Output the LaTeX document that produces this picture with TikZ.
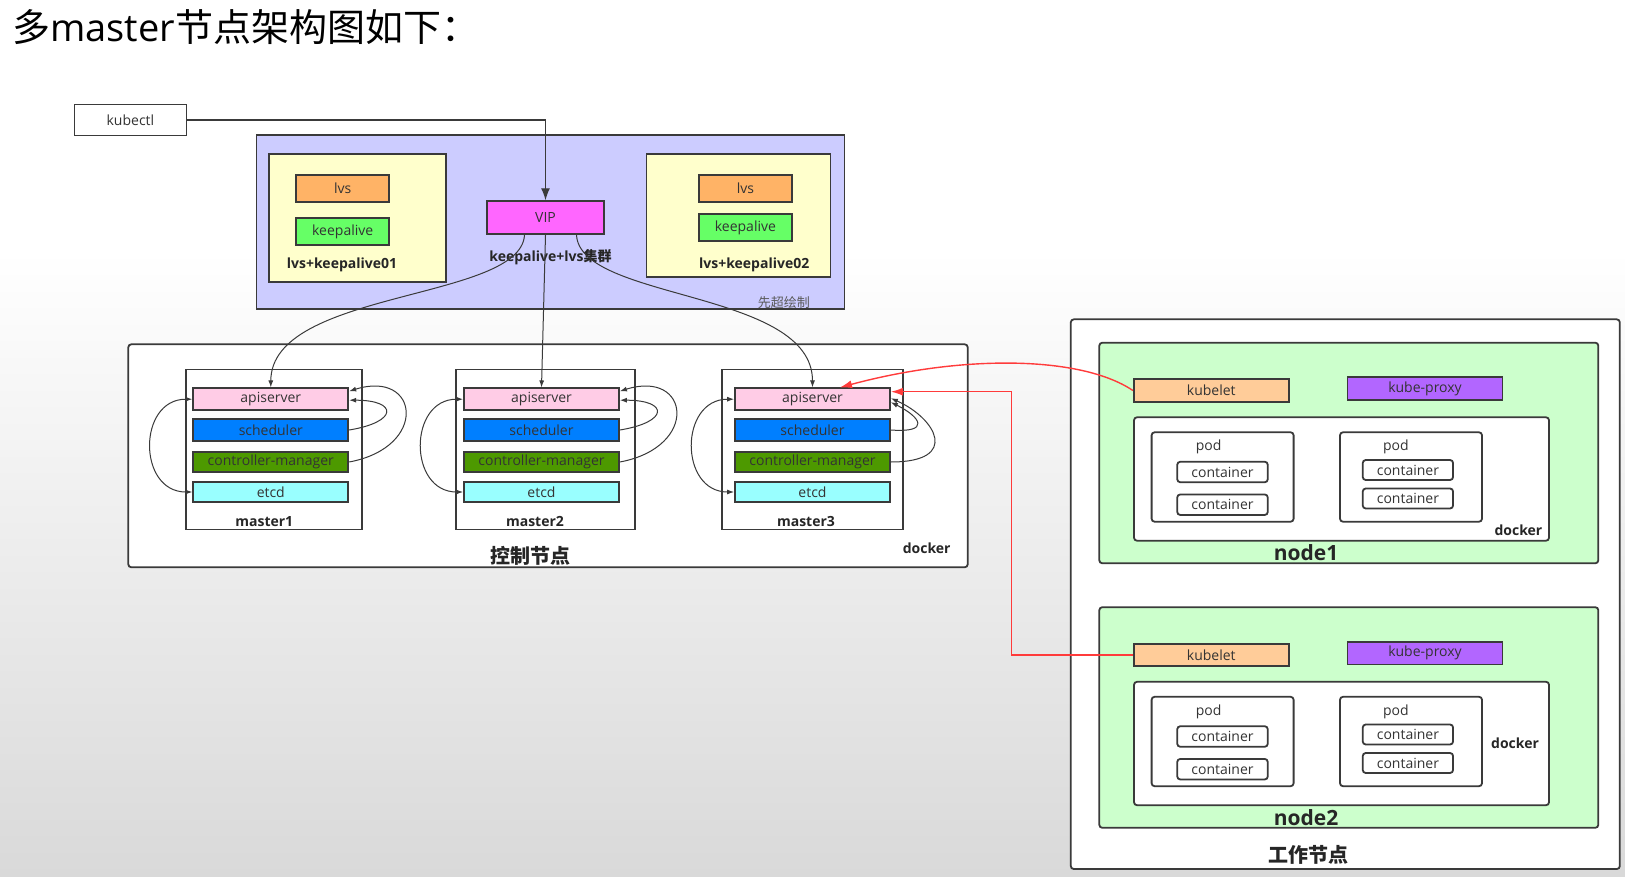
\documentclass[tikz,border=0pt]{standalone}
\usepackage{fontspec}
\setmainfont{Open Sans}
\newfontfamily\cjk{Noto Sans CJK SC}
\usetikzlibrary{arrows.meta,calc,positioning}

\definecolor{linec}{HTML}{3A3A3A}
\definecolor{textc}{HTML}{333333}
\definecolor{tagc}{HTML}{262626}
\definecolor{clusterbg}{HTML}{CCCCFF}
\definecolor{lvsbg}{HTML}{FFFFCC}
\definecolor{lvsc}{HTML}{FFB366}
\definecolor{keepc}{HTML}{66FF66}
\definecolor{vipc}{HTML}{FF66FF}
\definecolor{apic}{HTML}{FFCCE6}
\definecolor{schc}{HTML}{007FFF}
\definecolor{cmc}{HTML}{4D9900}
\definecolor{etcdc}{HTML}{99FFFF}
\definecolor{nodebg}{HTML}{CCFFCC}
\definecolor{kubeletc}{HTML}{FFCC99}
\definecolor{proxyc}{HTML}{B266FF}
\definecolor{redc}{HTML}{FF3B3B}
\definecolor{bgbot}{HTML}{D9D9D9}

\newcommand{\fs}[1]{\fontsize{#1}{#1}\selectfont}

\tikzset{
  box/.style     = {draw=linec, line width=1.8pt, inner sep=0pt,
                    text=textc, font=\fs{14}},
  pill/.style    = {box, minimum width=93pt, minimum height=27pt},
  bar/.style     = {box, minimum width=155pt},
  group/.style   = {box, rounded corners=3pt},
  cbox/.style    = {group, fill=white, minimum width=90.5pt, minimum height=20.5pt},
  plain/.style   = {inner sep=0pt, text=textc, font=\fs{14}},
  tag/.style     = {inner sep=0pt, text=tagc, font=\bfseries\fs{14}},
  link/.style    = {draw=linec, line width=1pt, -{Latex[length=7pt,width=5pt]}},
  redlink/.style = {draw=redc, line width=1.4pt, -{Latex[length=12pt,width=8pt]}}
}

\begin{document}
\begin{tikzpicture}[x=1pt, y=-1pt]
\useasboundingbox (0,0) rectangle (1625,877);
\fill[white] (0,0) rectangle (1625,250);
\shade[top color=white, bottom color=bgbot] (0,250) rectangle (1625,877);

% title
\node[anchor=west, inner sep=0pt, font=\fs{38}, text=black] (title) at (12,27)
  {{\cjk 多}master{\cjk 节点架构图如下：}};

% kubectl + keepalive/lvs
\node[box, fill=white, line width=1.4pt, minimum width=112pt, minimum height=31pt] (kubectl) at (130.4,120) {kubectl};
\node[box, fill=clusterbg, minimum width=588pt, minimum height=174pt] (cluster) at (550.5,222.2) {};
\node[box, fill=lvsbg, minimum width=177pt, minimum height=128pt] (lk1) at (357.1,217.9) {};
\node[box, fill=lvsbg, minimum width=184pt, minimum height=123pt] (lk2) at (738.4,215.7) {};
\node[pill, fill=lvsc] (lvs1) at (342.7,188.3) {lvs};
\node[pill, fill=keepc, below=14.3pt of lvs1] (keep1) {keepalive};
\node[pill, fill=lvsc] (lvs2) at (745.4,188.3) {lvs};
\node[pill, fill=keepc, below=10.6pt of lvs2] (keep2) {keepalive};
\node[box, fill=vipc, minimum width=117pt, minimum height=33pt] (vip) at (545.5,217.7) {VIP};
\node[tag] (lk1label) at (342,265) {lvs+keepalive01};
\node[tag] (lk2label) at (754.2,265) {lvs+keepalive02};
\node[tag] (viplabel) at (550.5,256.7) {keepalive+lvs{\cjk 集群}};
\node[plain, text=gray!70!black, font=\fs{13}] (sign) at (783.9,302.7) {\cjk 先超绘制};

% control plane
\node[group, fill=white, minimum width=839.4pt, minimum height=223pt] (control) at (548,455.8) {};
\node[tag, font=\bfseries\fs{20}] (controllabel) at (530.7,556) {\cjk 控制节点};
\node[tag] (dockerc) at (926.7,548.7) {docker};

\foreach \m/\bx/\bw/\ax in {1/186/175.7/193.3, 2/456/179.3/464, 3/722.3/181/735} {
  \node[box, fill=white, minimum width=\bw pt, minimum height=160pt] (master\m) at ({\bx+\bw/2},449.5) {};
  \node[bar, fill=apic, minimum height=21.7pt] (api\m) at ({\ax+77.5},399.2) {apiserver};
  \node[bar, fill=schc, minimum height=22pt] (sch\m) at ({\ax+77.5},430) {scheduler};
  \node[bar, fill=cmc, minimum height=19.4pt] (cm\m) at ({\ax+77.5},462) {controller-manager};
  \node[bar, fill=etcdc, minimum height=19.4pt] (etcd\m) at ({\ax+77.5},492) {etcd};
  \node[tag] (masterlabel\m) at ({\ax+71},521.7) {master\m};
  \draw[link, {Latex[length=7pt,width=5pt]}-{Latex[length=7pt,width=5pt]}]
    (api\m.west) .. controls +(-55,0) and +(-55,0) .. (etcd\m.west);
}
\foreach \m in {1,2} {
  \draw[link] (sch\m.east) .. controls +(49,-8) and +(49,0) .. ($(api\m.east)+(0,1)$);
  \draw[link] (cm\m.east) .. controls +(80,-15) and +(70,-22) .. ($(api\m.east)+(0,-8)$);
}
\draw[link] (sch3.east) .. controls +(40,3) and +(30,15) .. ($(api3.east)+(0,3)$);
\draw[link] (cm3.east) .. controls +(70,0) and +(45,20) .. ($(api3.east)+(0,-1)$);

% worker nodes
\node[group, fill=white, minimum width=549pt, minimum height=549.7pt] (worker) at (1345.3,594.2) {};
\node[tag, font=\bfseries\fs{20}] (workerlabel) at (1308.9,855) {\cjk 工作节点};

\foreach \n/\dy/\dkx/\dky in {1/0/1518.4/530, 2/264.5/1515/743} {
  \node[group, fill=nodebg, minimum width=499pt, minimum height=220.6pt] (node\n) at (1348.8,{453+\dy}) {};
  \node[box, fill=kubeletc, minimum width=155pt, minimum height=22.4pt] (kubelet\n) at (1211.3,{390.5+\dy}) {kubelet};
  \node[box, fill=proxyc, minimum width=155pt, minimum height=22.7pt] (proxy\n) at (1425,{388.7+\dy}) {kube-proxy};
  \node[group, fill=white, minimum width=415pt, minimum height=123.4pt] (docker\n) at (1341.5,{479+\dy}) {};
  \node[group, fill=white, minimum width=142pt, minimum height=89.4pt] (poda\n) at (1222.6,{477+\dy}) {};
  \node[group, fill=white, minimum width=142pt, minimum height=89.4pt] (podb\n) at (1411,{477+\dy}) {};
  \node[plain] (podalabel\n) at (1208.6,{447.3+\dy}) {pod};
  \node[plain] (podblabel\n) at (1395.8,{447.3+\dy}) {pod};
  \node[cbox] (ca\n) at (1222.5,{472+\dy}) {container};
  \node[cbox, below=10.4pt of ca\n] (cb\n) {container};
  \node[cbox, minimum width=90.3pt, minimum height=20pt] (cc\n) at (1407.9,{470+\dy}) {container};
  \node[cbox, minimum width=90.3pt, minimum height=20pt, below=6.7pt of cc\n] (cd\n) {container};
  \node[tag] (dockerlabel\n) at (\dkx,\dky) {docker};
  \node[tag, font=\bfseries\fs{21}] (nodelabel\n) at (1306,{553+\dy}) {node\n};
}

% connectors
\draw[link, line width=1.4pt, -{Latex[length=12pt,width=9pt]}] (kubectl.east) -| (vip.north);
\draw[link] ($(vip.south)+(-21,0)$) .. controls +(-4,66) and +(0,-98) .. (api1.north);
\draw[link] (vip.south) -- (api2.north);
\draw[link] ($(vip.south)+(31,0)$) .. controls +(4,66) and +(0,-98) .. (api3.north);

\draw[redlink] (kubelet1.west) .. controls (1080,355) and (960,355) .. ($(api3.north)+(27.5,0)$);
\coordinate (bend) at (1011.7,391.7);
\draw[redlink] (kubelet2.west) -| (bend) -- (bend -| api3.east);
\end{tikzpicture}
\end{document}
